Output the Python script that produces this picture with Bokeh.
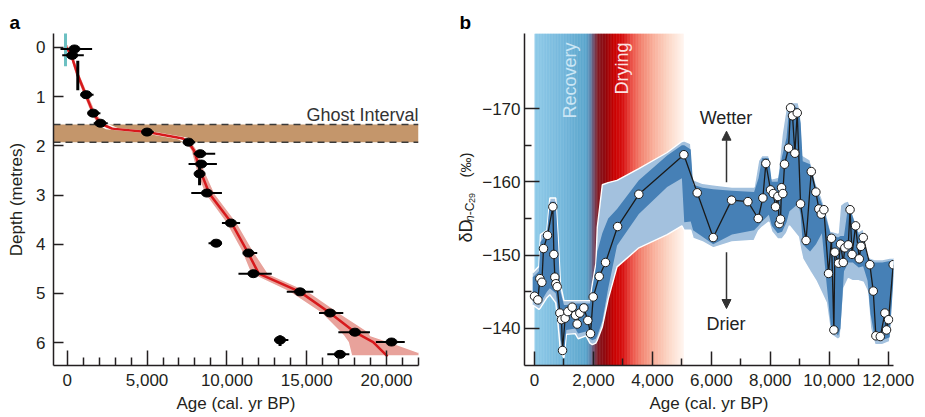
import math
from bokeh.plotting import figure
from bokeh.layouts import row
from bokeh.models import (Range1d, FixedTicker, NumeralTickFormatter, CustomJSTickFormatter,
                          Label, Span, BoxAnnotation, Arrow, NormalHead)
from bokeh.embed import file_html
from bokeh.resources import INLINE

FONT = "Liberation Sans"
INK = "#231f20"

# ---------------- Panel a: age-depth model data ----------------
date_age    = [456, 312, 663, 1187, 1625, 2080, 5000, 7600, 8330, 8395, 8290, 8750, 9330, 10250, 11350, 11660, 14580, 16460, 18020, 20310, 13330, 17080]
date_depth  = [0.03, 0.16, 0.57, 0.96, 1.335, 1.54, 1.72, 1.925, 2.16, 2.37, 2.57, 2.96, 3.98, 3.57, 4.18, 4.60, 4.97, 5.40, 5.79, 5.99, 5.95, 6.24]
date_age_lo = [-420, -312, 600, 836, 1290, 1660, 4690, 7250, 7910, 7600, 8150, 7770, 8850, 9690, 11000, 10725, 13750, 15770, 16980, 19330, 12960, 16290]
date_age_hi = [1560, 1040, 720, 1650, 2080, 2540, 5420, 8020, 9270, 9375, 8450, 9690, 9690, 10830, 11900, 12810, 15410, 17290, 18960, 21140, 13850, 17670]
date_dep_lo = [0.03, 0.16, 0.27, 0.96, 1.335, 1.54, 1.72, 1.925, 2.16, 2.37, 2.43, 2.96, 3.98, 3.57, 4.18, 4.60, 4.97, 5.40, 5.79, 5.99, 5.85, 6.24]
date_dep_hi = [0.03, 0.16, 0.87, 0.96, 1.335, 1.54, 1.72, 1.925, 2.16, 2.37, 2.80, 2.96, 3.98, 3.57, 4.18, 4.60, 4.97, 5.40, 5.79, 5.99, 6.07, 6.24]

model_depth = [0.0, 0.15, 0.55, 0.95, 1.35, 1.55, 1.65, 1.72, 1.85, 1.93, 2.10, 2.50, 2.97, 3.57, 4.13, 4.60, 4.97, 5.40, 5.79, 5.99, 6.28]
model_age   = [-60, 250, 650, 1150, 1650, 2100, 2800, 5000, 7250, 7600, 7950, 8330, 8900, 10300, 11250, 12000, 14580, 16460, 18020, 19160, 20060]

band_depth  = [-0.05, 0.15, 0.55, 0.95, 1.35, 1.55, 1.65, 1.72, 1.85, 1.93, 2.10, 2.50, 2.97, 3.57, 4.13, 4.60, 4.97, 5.40, 5.79, 5.86, 6.00, 6.26]
band_age_lo = [-200, 130, 500, 990, 1480, 1850, 2450, 4650, 6950, 7380, 7750, 8080, 8600, 9950, 10900, 11500, 13900, 15900, 17100, 17300, 17600, 17800]
band_age_hi = [60, 380, 800, 1320, 1850, 2400, 3150, 5350, 7550, 7820, 8170, 8600, 9250, 10650, 11650, 12600, 15150, 17050, 18900, 19000, 20300, 22500]

modern_age   = [-106, -106]
modern_depth = [-0.36, 0.38]

GHOST_TOP = 1.565
GHOST_BOTTOM = 1.925

a_xticks = [0, 5000, 10000, 15000, 20000]
a_xminor = [1000, 2000, 3000, 4000, 6000, 7000, 8000, 9000, 11000, 12000, 13000, 14000,
            16000, 17000, 18000, 19000, 21000, 22000]
a_yticks = [0, 1, 2, 3, 4, 5, 6]

# ---------------- Panel b: dD record data ----------------
b_age = [0, 113, 181, 249, 305, 441, 622, 656, 690, 724, 769, 860, 916, 950, 1040, 1130, 1278, 1391, 1448, 1538,
         1673, 1809, 1900, 1991, 2195, 2409, 2820, 3540, 5067, 5520, 6063, 6685, 7240, 7590, 7747, 7849, 8008, 8100, 8178, 8256,
         8302, 8347, 8381, 8425, 8483, 8619, 8687, 8755, 8833, 8914, 9026, 9213, 9390, 9546, 9648, 9730, 9818, 9976, 10075, 10157,
         10190, 10315, 10383, 10475, 10529, 10645, 10706, 10774, 10893, 11018, 11075, 11154, 11378, 11493, 11582, 11731, 11888, 11944, 12012, 12170]
b_dD = [-144.4, -143.9, -146.8, -146.3, -150.9, -152.7, -156.6, -150.1, -147.0, -146.1, -145.7, -142.1, -141.2, -137.0, -141.4, -142.3, -142.9, -141.8, -140.6, -142.1,
        -142.8, -141.1, -139.3, -144.3, -147.1, -149.0, -153.9, -158.3, -163.7, -158.5, -152.4, -157.5, -157.3, -155.0, -157.8, -162.5, -158.9, -158.4, -156.6, -158.0,
        -154.3, -154.9, -159.2, -158.4, -162.4, -164.6, -170.1, -169.0, -163.9, -169.4, -157.0, -152.0, -161.4, -158.6, -156.3, -155.6, -156.2, -147.5, -152.3, -139.8,
        -150.4, -148.9, -151.5, -149.0, -151.0, -151.4, -156.2, -150.1, -154.0, -149.5, -151.2, -152.4, -148.7, -145.1, -139.0, -138.9, -142.1, -139.8, -141.2, -148.7]

# uncertainty envelopes: outer top, inner top, inner bottom, outer bottom
env_age = [-60, 150, 200, 420, 520, 720, 800, 880, 1000, 1080, 1380, 1480, 1750, 1880, 1960, 2080, 2130, 2300, 2500, 2800,
           3540, 4500, 5000, 5080, 5300, 5380, 5700, 6063, 6700, 7450, 7600, 7720, 7950, 8050, 8250, 8400, 8550, 8650, 8950, 9030,
           9100, 9350, 9550, 9750, 9900, 10050, 10300, 10380, 10500, 10650, 10800, 11000, 11150, 11300, 11400, 11550, 11800, 12050, 12190]
env_out_top = [-147.6, -148.5, -152.8, -153.4, -157.8, -157.8, -152.5, -146.0, -143.8, -143.8, -143.8, -143.8, -143.8, -143.8, -146.0, -148.8, -153.8, -159.6, -159.9, -160.2,
               -161.8, -164.0, -165.5, -165.6, -165.2, -160.3, -159.8, -159.6, -159.3, -159.3, -162.9, -163.6, -163.6, -160.4, -160.6, -166.5, -170.4, -170.8, -170.8, -169.3,
               -163.6, -163.0, -159.8, -157.8, -155.8, -153.3, -153.0, -156.8, -157.2, -157.4, -155.6, -153.2, -153.6, -150.0, -149.6, -149.4, -149.4, -149.6, -149.6]
env_in_top = [-147.0, -147.8, -151.8, -153.0, -157.3, -157.3, -151.5, -145.0, -143.2, -143.2, -143.4, -143.4, -143.4, -143.4, -145.4, -148.2, -150.5, -153.0, -155.0, -156.3,
              -160.2, -163.6, -165.0, -165.0, -164.4, -159.6, -159.2, -159.0, -158.8, -158.6, -160.5, -163.2, -163.2, -160.0, -160.0, -163.5, -166.0, -170.6, -170.0, -168.0,
              -162.8, -162.4, -159.2, -157.0, -155.0, -152.8, -152.4, -152.6, -152.6, -157.0, -155.2, -152.8, -153.0, -149.6, -149.3, -149.0, -149.0, -149.2, -149.2]
env_in_bot = [-143.8, -143.2, -143.5, -145.0, -145.5, -144.8, -142.5, -138.5, -136.6, -139.8, -140.0, -139.3, -139.6, -138.6, -138.4, -138.6, -139.0, -141.0, -145.5, -151.3,
              -155.6, -159.3, -160.5, -154.5, -154.6, -153.4, -152.5, -151.5, -152.8, -153.4, -154.0, -154.6, -155.5, -154.0, -153.0, -153.2, -154.5, -156.0, -157.0, -155.5,
              -151.5, -150.5, -151.5, -153.0, -146.5, -140.5, -139.0, -140.0, -147.8, -149.0, -149.0, -148.3, -148.5, -146.5, -142.0, -138.6, -138.4, -138.8, -147.5]
env_out_bot = [-143.2, -142.6, -142.8, -144.2, -144.6, -143.5, -140.5, -136.8, -136.0, -139.2, -139.3, -138.6, -139.0, -138.0, -137.8, -138.0, -138.4, -140.2, -144.0, -148.4,
               -151.0, -152.8, -154.0, -153.4, -153.4, -152.3, -151.8, -151.0, -151.8, -152.0, -153.3, -153.8, -154.5, -153.2, -152.2, -152.2, -153.0, -154.0, -152.5, -150.8,
               -149.5, -147.8, -146.5, -144.8, -143.5, -139.2, -138.5, -138.8, -145.5, -146.8, -146.5, -146.5, -146.3, -145.0, -140.0, -137.8, -137.8, -138.2, -147.0]

b_xticks = [0, 2000, 4000, 6000, 8000, 10000, 12000]
b_xminor = [1000, 3000, 5000, 7000, 9000, 11000]
b_yticks = [-170, -160, -150, -140]
b_yminor = [-165, -155, -145]

# background colour ramp (Recovery -> Drying)
ramp_age = [0, 900, 1750, 1900, 2000, 2150, 2400, 2700, 3000, 3300, 3650, 4100, 4550, 5067]
ramp_rgb = [(143, 202, 232), (118, 184, 220), (90, 165, 204), (95, 130, 170), (110, 80, 110), (130, 25, 35),
            (145, 5, 10), (200, 0, 0), (215, 15, 15), (235, 80, 70), (243, 135, 115), (249, 180, 160),
            (252, 215, 198), (255, 246, 241)]

# ---------------- geometry (page pixels) ----------------
A_X0, A_X1 = -858, 22000
A_YB, A_YT = 6.4674, -0.2847
B_X0, B_X1 = -340, 12180
B_YB, B_YT = -134.95, -180.23
FRAME_TOP, FRAME_H = 33, 332


def ax(px):
    return A_X0 + (px - 53) * (A_X1 - A_X0) / 365.0


def ay(py):
    return A_YT + (py - FRAME_TOP) * (A_YB - A_YT) / FRAME_H


def bx(px):
    return B_X0 + (px - 524) * (B_X1 - B_X0) / 369.0


def by(py):
    return B_YT + (py - FRAME_TOP) * (B_YB - B_YT) / FRAME_H


def style_axes(p):
    for a in list(p.xaxis) + list(p.yaxis):
        a.axis_line_width = 1.5
        a.axis_line_color = INK
        a.major_tick_line_color = INK
        a.major_tick_line_width = 1.5
        a.minor_tick_line_color = INK
        a.minor_tick_line_width = 1.5
        a.major_tick_out = 0
        a.minor_tick_out = 0
        a.major_label_text_font = FONT
        a.major_label_text_font_size = "17px"
        a.major_label_text_color = INK
        a.axis_label_text_font = FONT
        a.axis_label_text_font_size = "17px"
        a.axis_label_text_font_style = "normal"
        a.axis_label_text_color = INK
    p.grid.visible = False
    p.outline_line_color = None


def style_title(p, offset):
    p.title.align = "left"
    p.title.offset = offset
    p.title.standoff = 2
    p.title.text_font = FONT
    p.title.text_font_size = "19px"
    p.title.text_font_style = "bold"
    p.title.text_color = "black"


# ================= Panel a =================
pa = figure(width=428, height=417, x_range=Range1d(A_X0, A_X1), y_range=Range1d(A_YB, A_YT),
            output_backend="svg", toolbar_location=None, title="a",
            min_border_left=53, min_border_right=10, min_border_top=33, min_border_bottom=52)
style_axes(pa)
style_title(pa, -44)
pa.xaxis.ticker = FixedTicker(ticks=a_xticks, minor_ticks=a_xminor)
pa.xaxis.formatter = NumeralTickFormatter(format="0,0")
pa.xaxis.major_tick_in = 15
pa.xaxis.minor_tick_in = 8
pa.xaxis.major_label_standoff = 8
pa.xaxis.axis_label_standoff = 5
pa.xaxis.axis_label = "Age (cal. yr BP)"
pa.yaxis.ticker = FixedTicker(ticks=a_yticks, minor_ticks=[])
pa.yaxis.major_tick_in = 10
pa.yaxis.major_label_standoff = 8
pa.yaxis.axis_label_standoff = 7
pa.yaxis.axis_label = "Depth (metres)"

pa.add_layout(BoxAnnotation(top=GHOST_TOP, bottom=GHOST_BOTTOM, fill_color="#c4966b", fill_alpha=1.0,
                            line_color=None, level="underlay"))
for loc in (GHOST_TOP, GHOST_BOTTOM):
    pa.add_layout(Span(location=loc, dimension="width", line_color="#3a3a3a", line_width=1.5,
                       line_dash="7 5", level="underlay"))

pa.harea(x1=band_age_lo, x2=band_age_hi, y=band_depth, fill_color="#e8a29b", fill_alpha=1.0)
pa.line(band_age_lo, band_depth, line_color="white", line_width=1.4)
pa.line(band_age_hi, band_depth, line_color="white", line_width=1.4)
pa.line(model_age, model_depth, line_color="#d7191c", line_width=2.5)
pa.line(modern_age, modern_depth, line_color="#6cc0c2", line_width=3)

pa.segment(x0=date_age_lo, y0=date_depth, x1=date_age_hi, y1=date_depth, line_color="black", line_width=2)
pa.segment(x0=date_age, y0=date_dep_lo, x1=date_age, y1=date_dep_hi, line_color="black", line_width=3)
blob_idx = [i for i in range(len(date_age)) if date_dep_hi[i] - date_dep_lo[i] < 0.5]
pa.ellipse(x=[date_age[i] for i in blob_idx], y=[date_depth[i] for i in blob_idx], width=11, height=8,
           width_units="screen", height_units="screen", fill_color="black", line_color="black")

pa.add_layout(Label(x=A_X1, y=ay(114), text="Ghost Interval", text_align="right", text_baseline="alphabetic",
                    text_font=FONT, text_font_size="18px", text_color="#333333"))

# ================= label strip between panels (its frame is aligned with the panels' frames) =================
S_X0, S_X1 = 428, 478
ps = figure(width=S_X1 - S_X0, height=417, x_range=Range1d(S_X0, S_X1),
            y_range=Range1d(FRAME_TOP + FRAME_H, FRAME_TOP),
            output_backend="svg", toolbar_location=None, x_axis_location=None, y_axis_location=None,
            title="b",
            min_border_left=0, min_border_right=0, min_border_top=33, min_border_bottom=52)
style_title(ps, 459 - S_X0)
ps.grid.visible = False
ps.outline_line_color = None
for txt, px, py, size, style in [("δD", 465, 242, "18px", "normal"),
                                 ("n", 469, 221.5, "12px", "italic"),
                                 ("-C", 469, 214.8, "12px", "normal"),
                                 ("29", 471.5, 202.5, "9px", "normal"),
                                 ("(‰)", 465, 177, "15px", "normal")]:
    ps.add_layout(Label(x=px, y=py, text=txt, angle=math.pi / 2, text_align="left",
                        text_baseline="alphabetic", text_font=FONT, text_font_size=size,
                        text_font_style=style, text_color=INK))

# ================= Panel b =================
pb = figure(width=925 - S_X1, height=417, x_range=Range1d(B_X0, B_X1), y_range=Range1d(B_YB, B_YT),
            output_backend="svg", toolbar_location=None,
            min_border_left=524 - S_X1, min_border_right=925 - S_X1 - (524 - S_X1) - 369,
            min_border_top=33, min_border_bottom=52)
style_axes(pb)
pb.xaxis.ticker = FixedTicker(ticks=b_xticks, minor_ticks=b_xminor)
pb.xaxis.formatter = NumeralTickFormatter(format="0,0")
pb.xaxis.major_tick_in = 14
pb.xaxis.minor_tick_in = 7
pb.xaxis.major_label_standoff = 8
pb.xaxis.axis_label_standoff = 5
pb.xaxis.axis_label = "Age (cal. yr BP)"
pb.yaxis.ticker = FixedTicker(ticks=b_yticks, minor_ticks=b_yminor)
pb.yaxis.formatter = CustomJSTickFormatter(code="return (tick < 0 ? '\\u2212' : '') + Math.abs(tick).toString();")
pb.yaxis.major_tick_in = 15
pb.yaxis.minor_tick_in = 7
pb.yaxis.major_label_standoff = 4

# colour ramp background
step = 25
lefts, rights, cols = [], [], []
a0 = ramp_age[0]
while a0 < ramp_age[-1]:
    mid = a0 + step / 2.0
    k = 0
    while k < len(ramp_age) - 2 and mid > ramp_age[k + 1]:
        k += 1
    t = (mid - ramp_age[k]) / (ramp_age[k + 1] - ramp_age[k])
    t = max(0.0, min(1.0, t))
    c = tuple(int(round(ramp_rgb[k][j] + t * (ramp_rgb[k + 1][j] - ramp_rgb[k][j]))) for j in range(3))
    lefts.append(a0)
    rights.append(min(a0 + step * 1.6, ramp_age[-1]))
    cols.append("#%02x%02x%02x" % c)
    a0 += step
pb.quad(left=lefts, right=rights, bottom=B_YB, top=B_YT, fill_color=cols, line_color=None)

pb.varea(x=env_age, y1=env_out_top, y2=env_out_bot, fill_color="#a3c1de", fill_alpha=1.0)
pb.line(env_age, env_out_top, line_color="white", line_width=1.4)
pb.line(env_age, env_out_bot, line_color="white", line_width=1.4)
pb.varea(x=env_age, y1=env_in_top, y2=env_in_bot, fill_color="#4680b6", fill_alpha=1.0)
pb.line(b_age, b_dD, line_color="#1a1a1a", line_width=1.3)
pb.scatter(b_age, b_dD, size=8.5, fill_color="white", line_color="#1a1a1a", line_width=1)

pb.add_layout(Label(x=bx(569), y=by(42), text="Recovery", angle=math.pi / 2, text_align="right",
                    text_baseline="alphabetic", text_font=FONT, text_font_size="18px", text_color="#cbe6f5"))
pb.add_layout(Label(x=bx(621.5), y=by(42), text="Drying", angle=math.pi / 2, text_align="right",
                    text_baseline="alphabetic", text_font=FONT, text_font_size="18px", text_color="#fbe2e2"))
pb.add_layout(Label(x=bx(725.5), y=by(117), text="Wetter", text_align="center", text_baseline="middle",
                    text_font=FONT, text_font_size="18px", text_color="#222222"))
pb.add_layout(Label(x=bx(725.5), y=by(323.5), text="Drier", text_align="center", text_baseline="middle",
                    text_font=FONT, text_font_size="18px", text_color="#222222"))
pb.add_layout(Arrow(end=NormalHead(size=9, fill_color="#333333", line_color="#333333"),
                    x_start=bx(726), y_start=by(181.7), x_end=bx(726), y_end=by(130.7),
                    line_color="#333333", line_width=1.5))
pb.add_layout(Arrow(end=NormalHead(size=9, fill_color="#333333", line_color="#333333"),
                    x_start=bx(726), y_start=by(251.7), x_end=bx(726), y_end=by(308),
                    line_color="#333333", line_width=1.5))

layout = row(pa, ps, pb)
open("out.html", "w", encoding="utf-8").write(file_html(layout, INLINE))
